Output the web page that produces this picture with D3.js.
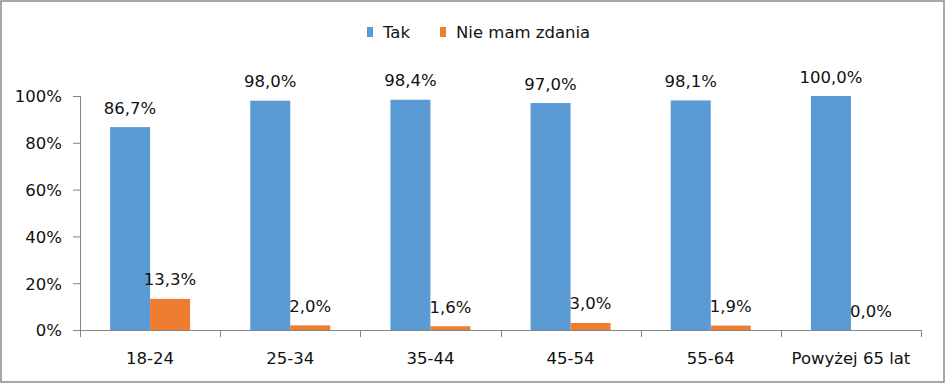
<!DOCTYPE html>
<html><head><meta charset="utf-8">
<script src="https://cdn.jsdelivr.net/npm/d3@7"></script>
<style>body{margin:0;background:#fff}svg{display:block}text{font-family:"DejaVu Sans",sans-serif;fill:#111}</style>
</head><body><svg id="c" width="945" height="383"></svg>
<script>
const categories = ["18-24","25-34","35-44","45-54","55-64","Powyżej 65 lat"];
const seriesNames = ["Tak","Nie mam zdania"];
const tak = [0.867,0.980,0.984,0.970,0.981,1.000];
const nieMam = [0.133,0.020,0.016,0.030,0.019,0.000];
const yTicks = [0,0.2,0.4,0.6,0.8,1.0];
const colors = ["#5B9BD5","#ED7D31"];
const seriesValues = [tak, nieMam];

const svg = d3.select("#c");
const W=945,H=383;
const pLeft=80,pRight=921,pTop=96,pBottom=330;
svg.append("rect").attr("x",1).attr("y",1).attr("width",W-2).attr("height",H-2).attr("fill","#fff").attr("stroke","#8a8a8a").attr("stroke-width",1.5);

const x0 = d3.scaleBand().domain(categories).range([pLeft,pRight]).padding(0);
const barW = 40;
const x1 = d3.scaleBand().domain(seriesNames).range([0,barW*2]).padding(0);
const y = d3.scaleLinear().domain([0,1]).range([pBottom,pTop]);
const fmtPct = d => d3.format(".0%")(d);
const fmtLbl = d => d3.format(".1f")(d*100).replace(".",",")+"%";
const fs = 16.5;

// axes
const axisCol = "#868686";
const yAxis = svg.append("g").attr("transform",`translate(${pLeft},0)`).call(d3.axisLeft(y).tickValues(yTicks).tickFormat(fmtPct).tickSize(7).tickSizeOuter(0));
yAxis.selectAll("path,line").attr("stroke",axisCol);
yAxis.selectAll("text").attr("font-size",fs).attr("x",-18).attr("dy","0.36em").attr("fill","#111").style("font-family","DejaVu Sans");
yAxis.select(".domain").attr("d",`M0.5,${pTop}V${pBottom}`);

const xAxisG = svg.append("g").attr("transform",`translate(0,${pBottom})`);
xAxisG.append("line").attr("x1",pLeft).attr("x2",pRight).attr("y1",0.5).attr("y2",0.5).attr("stroke",axisCol);
const bounds = categories.map(c=>x0(c)).concat([pRight]);
xAxisG.selectAll("line.t").data(bounds).join("line").attr("class","t")
  .attr("x1",d=>Math.round(d)+0.5).attr("x2",d=>Math.round(d)+0.5).attr("y1",0).attr("y2",7).attr("stroke",axisCol);
xAxisG.selectAll("text").data(categories).join("text")
  .attr("x",d=>x0(d)+x0.bandwidth()/2).attr("y",33.5).attr("text-anchor","middle").attr("font-size",fs).text(d=>d);

// bars
const off = (x0.bandwidth()-barW*2)/2;
seriesNames.forEach((s,si)=>{
  const g = svg.append("g");
  g.selectAll("rect").data(categories).join("rect")
    .attr("x",c=>x0(c)+off+x1(s)).attr("width",x1.bandwidth())
    .attr("y",(c,i)=>y(seriesValues[si][i])).attr("height",(c,i)=>pBottom-y(seriesValues[si][i]))
    .attr("fill",colors[si]);
  g.selectAll("text").data(categories).join("text")
    .attr("x",c=>x0(c)+off+x1(s)+x1.bandwidth()/2)
    .attr("y",(c,i)=>y(seriesValues[si][i])-13.5)
    .attr("text-anchor","middle").attr("font-size",fs)
    .text((c,i)=>fmtLbl(seriesValues[si][i]));
});

// legend
const legendX = [367,440];
const lg = svg.append("g");
seriesNames.forEach((s,i)=>{
  lg.append("rect").attr("x",legendX[i]).attr("y",27).attr("width",6).attr("height",10).attr("fill",colors[i]);
  lg.append("text").attr("x",legendX[i]+16).attr("y",38).attr("font-size",fs).text(s);
});
</script></body></html>
